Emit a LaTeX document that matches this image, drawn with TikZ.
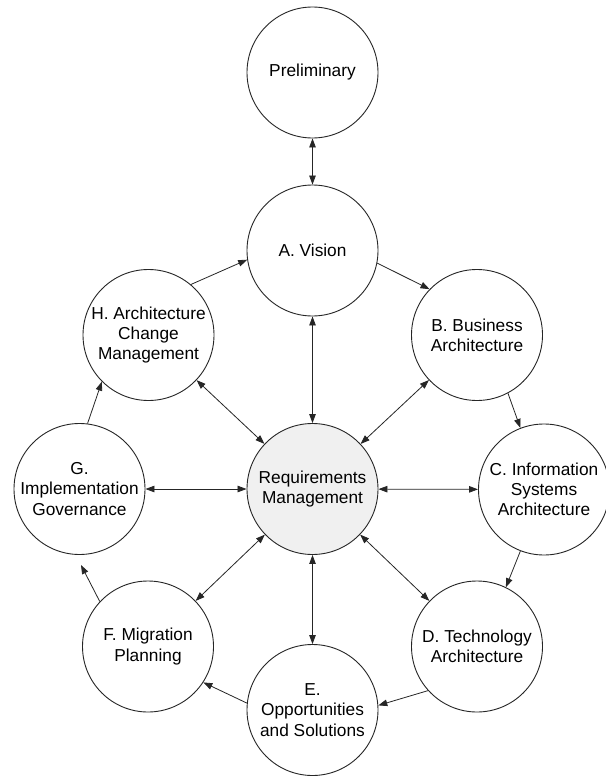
\documentclass[tikz,border=0pt]{standalone}
\usepackage{fontspec}
\setmainfont{Liberation Sans}
\usetikzlibrary{arrows.meta}
\definecolor{rmfill}{RGB}{240,240,240}
\begin{document}
\begin{tikzpicture}[x=1pt,y=-1pt,
  phase/.style={circle,draw=black!85,line width=0.9pt,minimum size=131pt,inner sep=0pt,align=center,
    font=\fontsize{17.3}{20.3}\selectfont},
  conn/.style={draw=black!85,line width=0.8pt,-{Triangle[length=9pt,width=6.5pt]}},
  dconn/.style={draw=black!85,line width=0.8pt,{Triangle[length=9pt,width=6.5pt]}-{Triangle[length=9pt,width=6.5pt]}}]
\useasboundingbox (0,0) rectangle (605,776);
\fill[white] (0,0) rectangle (605,776);
\node[phase] (pre) at (312.5,72.5) {Preliminary};
\node[phase] (a) at (312.5,250.5) {A. Vision};
\node[phase] (b) at (477,335) {B. Business\\Architecture};
\node[phase] (c) at (544,489.5) {C. Information\\Systems\\Architecture};
\node[phase] (d) at (477,646.5) {D. Technology\\Architecture};
\node[phase] (e) at (312.5,710) {E.\\Opportunities\\and Solutions};
\node[phase] (f) at (148,646.5) {F. Migration\\Planning};
\node[phase] (g) at (79.5,489) {G.\\Implementation\\Governance};
\node[phase] (h) at (148.5,335) {H. Architecture\\Change\\Management};
\node[phase,fill=rmfill] (rm) at (312.5,489) {Requirements\\Management};
\coordinate (gend) at (81,565);
% cycle
\draw[dconn] (pre) -- (a);
\draw[conn] (h.50.7) -- (a.188);
\draw[conn] (a.-11.6) -- (b.136);
\draw[conn] (b.-62.6) -- (c.111);
\draw[conn] (c.249) -- (d.64.7);
\draw[conn] (d.222) -- (e.4.4);
\draw[conn] (e.174) -- (f.-33);
\draw[conn] (f.137) -- (gend);
\draw[conn] (g.83.5) -- (h.225);
% radial
\draw[dconn] (rm) -- (a);
\draw[dconn] (rm) -- (b);
\draw[dconn] (rm) -- (c);
\draw[dconn] (rm) -- (d);
\draw[dconn] (rm) -- (e);
\draw[dconn] (rm) -- (f);
\draw[dconn] (rm) -- (g);
\draw[dconn] (rm) -- (h);
\end{tikzpicture}
\end{document}
